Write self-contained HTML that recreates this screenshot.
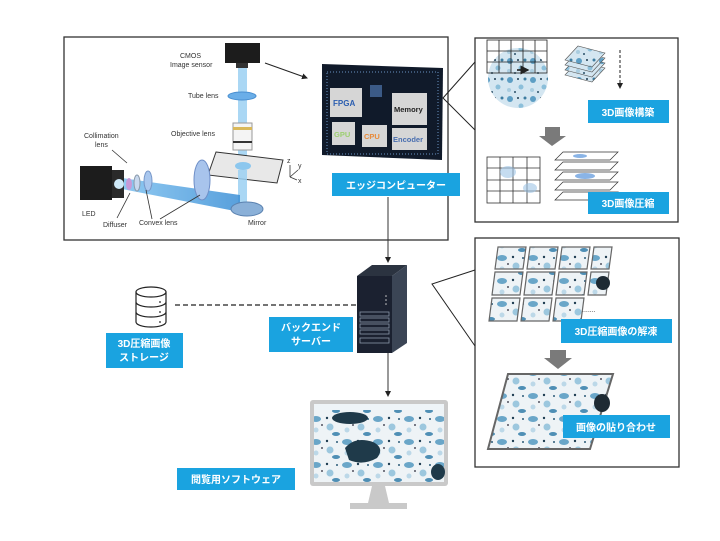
<!DOCTYPE html>
<html><head><meta charset="utf-8"><style>
html,body{margin:0;padding:0;background:#fff;}
svg{display:block;}
text{font-family:"Liberation Sans","Noto Sans CJK JP",sans-serif;}
.lb{fill:#fff;font-weight:bold;font-size:10px;}
.sm{fill:#333;font-size:7px;}
</style></head><body>
<svg width="720" height="541" viewBox="0 0 720 541" xmlns="http://www.w3.org/2000/svg">
<defs>
<marker id="ah" markerWidth="6" markerHeight="6" refX="5" refY="3" orient="auto"><path d="M0,0L6,3L0,6z" fill="#222"/></marker>
<pattern id="cells" width="23" height="19" patternUnits="userSpaceOnUse">
<rect width="23" height="19" fill="#d4e6f1"/>
<circle cx="4" cy="4" r="3" fill="#5d9ec4"/><circle cx="15" cy="11" r="2.5" fill="#8cbfda"/><circle cx="12" cy="3" r="1" fill="#1d3a50"/><circle cx="3" cy="14" r="2" fill="#a9cde0"/><circle cx="19" cy="3" r="1.5" fill="#3d7ca0"/><circle cx="9" cy="16" r="1" fill="#2a4f68"/>
</pattern>
<pattern id="cells2" width="31" height="23" patternUnits="userSpaceOnUse">
<rect width="31" height="23" fill="#eef3f6"/>
<ellipse cx="6" cy="5" rx="5" ry="3" fill="#6aa6c8"/><circle cx="20" cy="13" r="3.5" fill="#9cc7de"/><circle cx="17" cy="4" r="1.2" fill="#1f3d52"/><circle cx="6" cy="16" r="2.5" fill="#bcd8e8"/><circle cx="27" cy="5" r="1" fill="#2a5a78"/><ellipse cx="26" cy="20" rx="4" ry="2" fill="#4f8fb5"/><circle cx="12" cy="11" r="0.9" fill="#223"/>
</pattern>
<linearGradient id="beam" x1="0" x2="1"><stop offset="0" stop-color="#7cc0ef"/><stop offset="1" stop-color="#3b8fd6"/></linearGradient>
</defs>

<rect x="64" y="37" width="384" height="203" fill="#fff" stroke="#333" stroke-width="1.3"/>
<rect x="475" y="38" width="203" height="184" fill="#fff" stroke="#333" stroke-width="1.3"/>
<rect x="475" y="238" width="204" height="229" fill="#fff" stroke="#333" stroke-width="1.3"/>
<polyline points="475,62 443,98 475,130" fill="none" stroke="#222" stroke-width="1"/>
<polyline points="475,270 432,284 475,346" fill="none" stroke="#222" stroke-width="1"/>

<rect x="225" y="43" width="35" height="20" fill="#1c1c1c"/>
<rect x="236" y="63" width="12" height="5" fill="#333"/>
<rect x="238" y="68" width="9" height="92" fill="#9bd0f2" opacity="0.85"/>
<ellipse cx="242" cy="96" rx="14" ry="4" fill="#6aaee8" stroke="#4a8fd0"/>
<rect x="233" y="123" width="19" height="27" fill="#f4f4f4" stroke="#999"/>
<rect x="233" y="127" width="19" height="3" fill="#d9b85a"/>
<rect x="233" y="141" width="19" height="2" fill="#333"/>
<polygon points="216,152 283,160 277,183 208,175" fill="#e8e8e8" stroke="#333"/>
<ellipse cx="243" cy="166" rx="8" ry="4" fill="#8cc7ee"/>
<rect x="238" y="170" width="9" height="36" fill="#9bd0f2" opacity="0.85"/>
<polygon points="122,178 240,195 240,212 122,189" fill="url(#beam)" opacity="0.85"/>
<ellipse cx="247" cy="209" rx="16" ry="7" fill="#8ab0d8" stroke="#5b82b0"/>
<rect x="80" y="166" width="32" height="34" fill="#1c1c1c"/>
<rect x="112" y="170" width="12" height="28" fill="#2a2a2a"/>
<circle cx="119" cy="184" r="5" fill="#cfe9f8"/>
<ellipse cx="129" cy="184" rx="3" ry="6" fill="#c79ad8"/>
<ellipse cx="137" cy="183" rx="3" ry="8" fill="#c8d8ee" stroke="#89a"/>
<ellipse cx="148" cy="181" rx="4" ry="10" fill="#a9c7ee" stroke="#7797c8"/>
<ellipse cx="202" cy="180" rx="8" ry="20" fill="#a8c4ec" stroke="#6f8fc8"/>
<g stroke="#333" stroke-width="0.8" fill="none">
<line x1="290" y1="165" x2="290" y2="177"/><line x1="290" y1="177" x2="298" y2="170"/><line x1="290" y1="177" x2="297" y2="180"/>
<line x1="112" y1="150" x2="127" y2="163"/><line x1="117" y1="218" x2="130" y2="193"/>
<line x1="152" y1="219" x2="146" y2="190"/><line x1="160" y1="219" x2="200" y2="195"/>
</g>
<text class="sm" x="298" y="168">y</text><text class="sm" x="298" y="183">x</text><text class="sm" x="287" y="163">z</text>
<text class="sm" x="180" y="58">CMOS</text><text class="sm" x="170" y="67">Image sensor</text>
<text class="sm" x="188" y="98">Tube lens</text>
<text class="sm" x="171" y="136">Objective lens</text>
<text class="sm" x="84" y="138">Collimation</text><text class="sm" x="95" y="147">lens</text>
<text class="sm" x="82" y="216">LED</text>
<text class="sm" x="103" y="227">Diffuser</text>
<text class="sm" x="139" y="225">Convex lens</text>
<text class="sm" x="248" y="225">Mirror</text>
<line x1="265" y1="63" x2="307" y2="78" stroke="#222" stroke-width="1" marker-end="url(#ah)"/>

<polygon points="322,64 443,68 442,160 322,155" fill="#101a2a"/>
<rect x="327" y="72" width="111" height="82" fill="none" stroke="#4a6a90" stroke-dasharray="1,2" stroke-width="1.5"/>
<rect x="370" y="85" width="12" height="12" fill="#3b5a86"/>
<rect x="330" y="88" width="32" height="29" fill="#d6d6d6"/>
<text x="333" y="106" font-size="8" font-weight="bold" fill="#2a5db0">FPGA</text>
<rect x="392" y="93" width="35" height="32" fill="#d6d6d6"/>
<text x="394" y="112" font-size="7.5" font-weight="bold" fill="#222">Memory</text>
<rect x="332" y="122" width="23" height="23" fill="#d6d6d6"/>
<text x="334" y="137" font-size="7.5" font-weight="bold" fill="#9ccf70">GPU</text>
<rect x="362" y="125" width="25" height="22" fill="#d6d6d6"/>
<text x="364" y="139" font-size="7.5" font-weight="bold" fill="#e88a3a">CPU</text>
<rect x="392" y="128" width="35" height="22" fill="#d6d6d6"/>
<text x="393" y="142" font-size="7.5" font-weight="bold" fill="#4a6fb0">Encoder</text>
<rect x="332" y="173" width="128" height="23" fill="#1aa3e0"/>
<text class="lb" x="396" y="189" text-anchor="middle">エッジコンピューター</text>

<circle cx="518" cy="78" r="30" fill="url(#cells)"/>
<g stroke="#222" stroke-width="0.8" fill="none">
<rect x="487" y="40" width="60" height="33"/>
<path d="M487,51H547M487,62H547M499,40V73M511,40V73M523,40V73M535,40V73"/>
</g>
<line x1="517" y1="70" x2="528" y2="70" stroke="#111" stroke-width="1.5" marker-end="url(#ah)"/>
<g stroke="#555" stroke-width="0.6">
<polygon points="565,75 592,82 605,68 578,61" fill="url(#cells)"/>
<polygon points="565,70 592,77 605,63 578,56" fill="url(#cells)"/>
<polygon points="565,65 592,72 605,58 578,51" fill="url(#cells)"/>
<polygon points="565,60 592,67 605,53 578,46" fill="url(#cells)"/>
</g>
<line x1="620" y1="50" x2="620" y2="88" stroke="#222" stroke-dasharray="3,2" marker-end="url(#ah)"/>
<rect x="588" y="100" width="81" height="23" fill="#1aa3e0"/>
<text class="lb" x="628" y="116" text-anchor="middle">3D画像構築</text>
<polygon points="545,127 560,127 560,136 566,136 552,146 539,136 545,136" fill="#7a7a7a"/>
<g stroke="#333" stroke-width="0.8" fill="none">
<rect x="487" y="157" width="53" height="46"/>
<path d="M487,168H540M487,180H540M487,191H540M500,157V203M513,157V203M527,157V203"/>
</g>
<ellipse cx="508" cy="172" rx="8" ry="6" fill="#9fc4e6" opacity="0.6"/>
<ellipse cx="530" cy="188" rx="7" ry="5" fill="#9fc4e6" opacity="0.6"/>
<g stroke="#333" stroke-width="0.7" fill="#fff">
<polygon points="555,200 610,200 618,192 563,192"/>
<polygon points="555,190 610,190 618,182 563,182"/>
<polygon points="555,180 610,180 618,172 563,172"/>
<polygon points="555,170 610,170 618,162 563,162"/>
<polygon points="555,160 610,160 618,152 563,152"/>
</g>
<ellipse cx="585" cy="176" rx="10" ry="3" fill="#8ab4e6"/>
<ellipse cx="580" cy="156" rx="7" ry="2" fill="#8ab4e6"/>
<rect x="588" y="192" width="81" height="22" fill="#1aa3e0"/>
<text class="lb" x="628" y="207" text-anchor="middle">3D画像圧縮</text>

<g stroke="#666" stroke-width="1.2" fill="url(#cells2)">
<polygon points="498,247 526,247 523,269 495,269"/><polygon points="530,247 558,247 555,269 527,269"/><polygon points="562,247 590,247 587,269 559,269"/><polygon points="594,247 612,247 609,269 591,269"/>
<polygon points="495,272 523,272 520,295 492,295"/><polygon points="527,272 555,272 552,295 524,295"/><polygon points="559,272 587,272 584,295 556,295"/><polygon points="591,272 609,272 606,295 588,295"/>
<polygon points="492,298 520,298 517,321 489,321"/><polygon points="524,298 552,298 549,321 521,321"/><polygon points="556,298 584,298 581,321 553,321"/>
</g>
<ellipse cx="603" cy="283" rx="7" ry="7" fill="#1e2a33"/>
<text x="582" y="312" font-size="7" fill="#333">.......</text>
<rect x="561" y="319" width="111" height="24" fill="#1aa3e0"/>
<text class="lb" x="616" y="335" text-anchor="middle">3D圧縮画像の解凍</text>
<polygon points="550,350 566,350 566,358 572,358 558,369 544,358 550,358" fill="#7a7a7a"/>
<polygon points="508,374 613,374 590,449 488,449" fill="url(#cells2)" stroke="#666" stroke-width="2"/>
<ellipse cx="602" cy="403" rx="8" ry="9" fill="#1e2a33"/>
<rect x="563" y="415" width="107" height="23" fill="#1aa3e0"/>
<text class="lb" x="616" y="431" text-anchor="middle">画像の貼り合わせ</text>

<line x1="388" y1="197" x2="388" y2="262" stroke="#333" stroke-width="1" marker-end="url(#ah)"/>
<line x1="388" y1="353" x2="388" y2="396" stroke="#333" stroke-width="1" marker-end="url(#ah)"/>
<line x1="175" y1="305" x2="357" y2="305" stroke="#222" stroke-width="1.2" stroke-dasharray="5,3"/>

<polygon points="357,276 372,265 407,265 392,276" fill="#2b3340"/>
<polygon points="392,276 407,265 407,343 392,353" fill="#3b4555"/>
<rect x="357" y="276" width="35" height="77" fill="#1b2130"/>
<g fill="none" stroke="#8a96aa" stroke-width="0.8">
<rect x="360" y="312" width="29" height="4"/><rect x="360" y="318" width="29" height="4"/><rect x="360" y="324" width="29" height="4"/><rect x="360" y="330" width="29" height="4"/><rect x="360" y="338" width="29" height="5"/>
</g>
<circle cx="386" cy="296" r="0.8" fill="#ccc"/><circle cx="386" cy="300" r="0.8" fill="#ccc"/><circle cx="386" cy="304" r="0.8" fill="#ccc"/>
<rect x="269" y="317" width="84" height="35" fill="#1aa3e0"/>
<text class="lb" x="311" y="331" text-anchor="middle">バックエンド</text>
<text class="lb" x="311" y="345" text-anchor="middle">サーバー</text>

<g fill="#fff" stroke="#222" stroke-width="1.2">
<path d="M136,292v30a15,5 0 0 0 30,0v-30"/>
<ellipse cx="151" cy="292" rx="15" ry="5"/>
<path d="M136,302a15,5 0 0 0 30,0M136,312a15,5 0 0 0 30,0"/>
</g>
<circle cx="160" cy="302" r="0.9" fill="#222"/><circle cx="160" cy="312" r="0.9" fill="#222"/><circle cx="160" cy="322" r="0.9" fill="#222"/>
<rect x="106" y="333" width="77" height="35" fill="#1aa3e0"/>
<text class="lb" x="144" y="347" text-anchor="middle">3D圧縮画像</text>
<text class="lb" x="144" y="361" text-anchor="middle">ストレージ</text>

<rect x="310" y="400" width="138" height="86" rx="3" fill="#c9c9c9"/>
<rect x="314" y="404" width="130" height="78" fill="url(#cells2)"/>
<rect x="314" y="404" width="130" height="6" fill="#eef4f8"/>
<ellipse cx="350" cy="418" rx="18" ry="6" fill="#1f3a4a"/>
<path d="M345,448 q10,-12 28,-6 q12,6 4,16 q-14,8 -28,2 z" fill="#1f3a4a"/>
<ellipse cx="438" cy="472" rx="7" ry="8" fill="#1f3a4a"/>
<polygon points="372,486 385,486 389,503 368,503" fill="#c9c9c9"/>
<rect x="350" y="503" width="57" height="6" fill="#c9c9c9"/>
<rect x="177" y="468" width="118" height="22" fill="#1aa3e0"/>
<text class="lb" x="236" y="483" text-anchor="middle">閲覧用ソフトウェア</text>
</svg>
</body></html>
